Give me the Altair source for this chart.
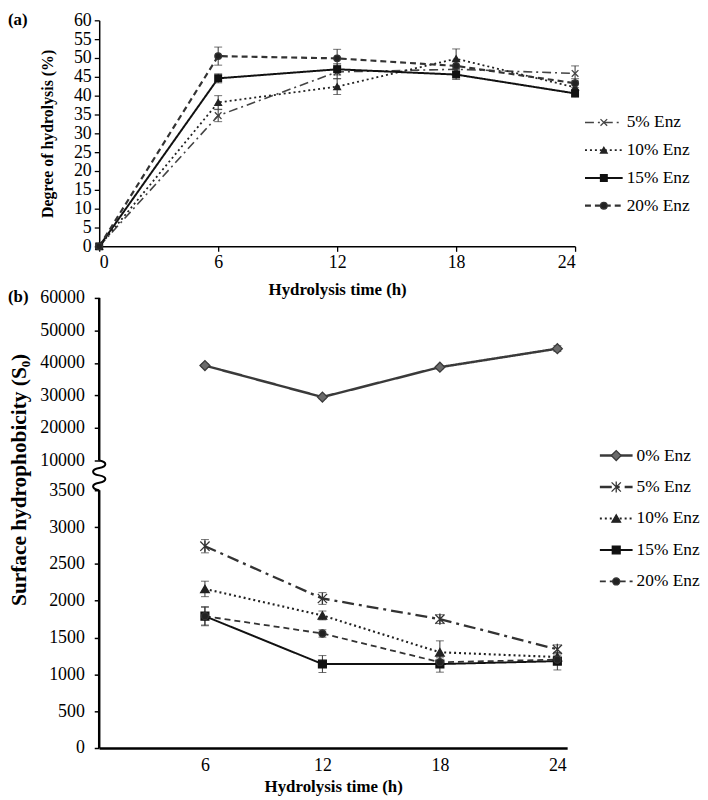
import altair as alt
import pandas as pd

FONT = "'Liberation Serif', 'Times New Roman', serif"

# ---------------- panel (a): degree of hydrolysis ----------------
time_a = [0, 6, 12, 18, 24]
series_a = ["5% Enz", "10% Enz", "15% Enz", "20% Enz"]
dh_5 = [0, 34.7, 46.3, 47.0, 45.9]
dh_5_err = [0, 1.6, 1.8, 1.0, 2.0]
dh_10 = [0, 38.2, 42.4, 49.8, 42.2]
dh_10_err = [0, 1.8, 2.1, 2.6, 1.0]
dh_15 = [0, 44.6, 47.0, 45.6, 40.6]
dh_15_err = [0, 1.2, 1.5, 1.3, 1.0]
dh_20 = [0, 50.5, 49.9, 47.9, 43.3]
dh_20_err = [0, 2.4, 2.4, 1.5, 1.2]
dh_ticks = list(range(0, 61, 5))

# ---------------- panel (b): surface hydrophobicity ----------------
time_b = [6, 12, 18, 24]
series_b = ["0% Enz", "5% Enz", "10% Enz", "15% Enz", "20% Enz"]
s0_0 = [39200, 29500, 38700, 44400]
s0_0_err = [500, 500, 500, 900]
s0_5 = [2740, 2030, 1750, 1340]
s0_5_err = [90, 80, 60, 60]
s0_10 = [2160, 1800, 1300, 1235]
s0_10_err = [105, 60, 155, 60]
s0_15 = [1790, 1140, 1140, 1180]
s0_15_err = [130, 115, 110, 120]
s0_20 = [1790, 1555, 1165, 1200]
s0_20_err = [120, 50, 60, 60]
s0_ticks = [0, 500, 1000, 1500, 2000, 2500, 3000, 3500,
            10000, 20000, 30000, 40000, 50000, 60000]
s0_break_domain = [0, 3500, 10000, 60000]
axis_seg_lo = [0, 10000]
axis_seg_hi = [3500, 60000]
panel_labels = ["(a)", "(b)"]


def long_df(times, names, vals, errs):
    rows = []
    for s, vs, es in zip(names, vals, errs):
        for t, v, e in zip(times, vs, es):
            rows.append({"time": t, "series": s, "value": v, "err": e,
                         "lo": v - e, "hi": v + e})
    return pd.DataFrame(rows)


df_a = long_df(time_a, series_a, [dh_5, dh_10, dh_15, dh_20],
               [dh_5_err, dh_10_err, dh_15_err, dh_20_err])
df_b = long_df(time_b, series_b, [s0_0, s0_5, s0_10, s0_15, s0_20],
               [s0_0_err, s0_5_err, s0_10_err, s0_15_err, s0_20_err])

XMARK = "M-1,-1L1,1M-1,1L1,-1"
STAR = "M-1,-1L1,1M-1,1L1,-1M0,-1.2L0,1.2"
SQUIGGLE = ("M0,-1C0.55,-0.9 0.55,-0.6 0,-0.5C-0.55,-0.4 -0.55,-0.1 0,0"
            "C0.55,0.1 0.55,0.4 0,0.5C-0.55,0.6 -0.55,0.9 0,1")


def enc_styles(domain, dashes, widths, shapes, sizes, fills, line_cols):
    return dict(
        strokeDash=alt.StrokeDash("series:N", scale=alt.Scale(domain=domain, range=dashes), legend=None),
        strokeWidth=alt.StrokeWidth("series:N", scale=alt.Scale(domain=domain, range=widths), legend=None),
        shape=alt.Shape("series:N", scale=alt.Scale(domain=domain, range=shapes), legend=None),
        size=alt.Size("series:N", scale=alt.Scale(domain=domain, range=sizes), legend=None),
        fill=alt.Fill("series:N", scale=alt.Scale(domain=domain, range=fills), legend=None),
        stroke=alt.Stroke("series:N", scale=alt.Scale(domain=domain, range=line_cols), legend=None),
    )


def build_panel(df, domain, styles, x_enc, y_fn, leg_x, leg_range, extra_main, label_text, label_y):
    base = alt.Chart(df)
    line = base.mark_line().encode(
        x=x_enc, y=y_fn("value:Q"),
        strokeDash=styles["strokeDash"], strokeWidth=styles["strokeWidth"],
        stroke=styles["stroke"])
    errb = base.transform_filter("datum.err > 0")
    err = errb.mark_rule(color="#333333", strokeWidth=1).encode(
        x=x_enc, y=y_fn("lo:Q"), y2="hi:Q")
    cap_lo = errb.mark_tick(orient="horizontal", size=8, thickness=1, color="#333333").encode(
        x=x_enc, y=y_fn("lo:Q"))
    cap_hi = errb.mark_tick(orient="horizontal", size=8, thickness=1, color="#333333").encode(
        x=x_enc, y=y_fn("hi:Q"))
    pts = base.mark_point(filled=False, opacity=1, strokeWidth=1.3).encode(
        x=x_enc, y=y_fn("value:Q"), shape=styles["shape"], size=styles["size"],
        fill=styles["fill"], stroke=styles["stroke"])
    main = alt.layer(line, err, cap_lo, cap_hi, pts, *extra_main)

    leg_df = pd.DataFrame({"series": domain})
    ly = alt.Y("series:N", scale=alt.Scale(type="point", domain=domain, range=leg_range, padding=0), axis=None)
    lbase = alt.Chart(leg_df)
    l_rule = lbase.mark_rule().encode(
        x=alt.value(leg_x[0]), x2=alt.value(leg_x[1]), y=ly,
        strokeDash=styles["strokeDash"], strokeWidth=styles["strokeWidth"], stroke=styles["stroke"])
    l_pts = lbase.mark_point(filled=False, opacity=1, strokeWidth=1.3).encode(
        x=alt.value((leg_x[0] + leg_x[1]) / 2), y=ly, shape=styles["shape"], size=styles["size"],
        fill=styles["fill"], stroke=styles["stroke"])
    l_txt = lbase.mark_text(align="left", baseline="middle", font=FONT, fontSize=17.5, color="black").encode(
        x=alt.value(leg_x[1] + 4), y=ly, text="series:N")
    legend = alt.layer(l_rule, l_pts, l_txt)

    lab = alt.Chart(pd.DataFrame({"t": [label_text]})).mark_text(
        align="left", baseline="middle", font=FONT, fontSize=17, fontWeight="bold", color="black"
    ).encode(x=alt.value(-92), y=alt.value(label_y), text="t:N")
    return alt.layer(main, legend, lab).resolve_scale(y="independent")


# ---------- panel (a)
W_A, H_A = 480, 228
xa = alt.X("time:Q", scale=alt.Scale(domain=[0, 24], nice=False, zero=False),
           axis=alt.Axis(values=time_a, format="d", title="Hydrolysis time (h)", tickSize=5,
                         tickWidth=1.3, domainWidth=1.5, labelPadding=2, titlePadding=11))


def ya(field):
    return alt.Y(field, scale=alt.Scale(domain=[0, 60], nice=False),
                 axis=alt.Axis(values=dh_ticks, format="d", title="Degree of hydrolysis (%)",
                               tickSize=5, tickWidth=1.3, domainWidth=1.5, labelPadding=3,
                               titlePadding=18, titleFontSize=16, labelOverlap=False))


styles_a = enc_styles(series_a,
                      [[9, 4, 2, 4], [2, 3], [1, 0], [6, 4]],
                      [1.6, 2.2, 1.3, 1.2],
                      [XMARK, "triangle-up", "square", "circle"],
                      [45, 45, 60, 45],
                      ["#777777", "#222222", "#111111", "#222222"],
                      ["#444444", "#222222", "#111111", "#333333"])

panel_a = build_panel(df_a, series_a, styles_a, xa, ya, (490, 528), [103, 187], [],
                      panel_labels[0], 0).properties(width=W_A, height=H_A)

# ---------- panel (b)
W_B, H_B = 472, 454
xb = alt.X("time:Q", scale=alt.Scale(domain=[0.6, 24.5], nice=False, zero=False),
           axis=alt.Axis(values=time_b, format="d", title="Hydrolysis time (h)", tickSize=0,
                         domainWidth=2.5, labelPadding=9, titlePadding=4))

yb_scale = alt.Scale(domain=s0_break_domain, range=[H_B, 194, 164, 0], nice=False, zero=False)
yb_axis = alt.Axis(values=s0_ticks, format="d", title="Surface hydrophobicity (S₀)",
                   domain=False, tickSize=5, tickWidth=1.5, labelPadding=10,
                   titlePadding=9, titleY=183, titleFontSize=21.5, labelOverlap=False)


def yb(field):
    return alt.Y(field, scale=yb_scale, axis=yb_axis)


styles_b = enc_styles(series_b,
                      [[1, 0], [12, 5, 3, 5], [2, 3], [1, 0], [6, 4]],
                      [2.5, 1.8, 2.2, 1.3, 1.2],
                      ["diamond", STAR, "triangle-up", "square", "circle"],
                      [100, 50, 45, 60, 60],
                      ["#6b6b6b", "#444444", "#222222", "#111111", "#222222"],
                      ["#3a3a3a", "#333333", "#222222", "#111111", "#333333"])

axis_df = pd.DataFrame({"lo": axis_seg_lo, "hi": axis_seg_hi})
axis_rules = alt.Chart(axis_df).mark_rule(color="black", strokeWidth=2.5).encode(
    x=alt.value(0), y=yb("lo:Q"), y2="hi:Q")
squiggle = alt.Chart(pd.DataFrame({"k": [0]})).mark_point(
    shape=SQUIGGLE, size=900, filled=False, stroke="black", strokeWidth=2, opacity=1
).encode(x=alt.value(0), y=alt.YDatum(6750, scale=yb_scale, axis=yb_axis))

panel_b = build_panel(df_b, series_b, styles_b, xb, yb, (505, 538), [159, 286],
                      [axis_rules, squiggle], panel_labels[1], -1).properties(width=W_B, height=H_B)

chart = alt.vconcat(panel_a, panel_b, spacing=52, bounds="flush").resolve_scale(
    strokeDash="independent", strokeWidth="independent", shape="independent",
    size="independent", fill="independent", stroke="independent"
).properties(padding=0).configure_view(stroke=None).configure_axis(
    grid=False, labelFont=FONT, titleFont=FONT, labelFontSize=18, titleFontSize=17,
    titleFontWeight="bold", labelColor="black", titleColor="black",
    domainColor="black", tickColor="black"
)

chart.save("out.html", embed_options={"renderer": "svg", "actions": False})
